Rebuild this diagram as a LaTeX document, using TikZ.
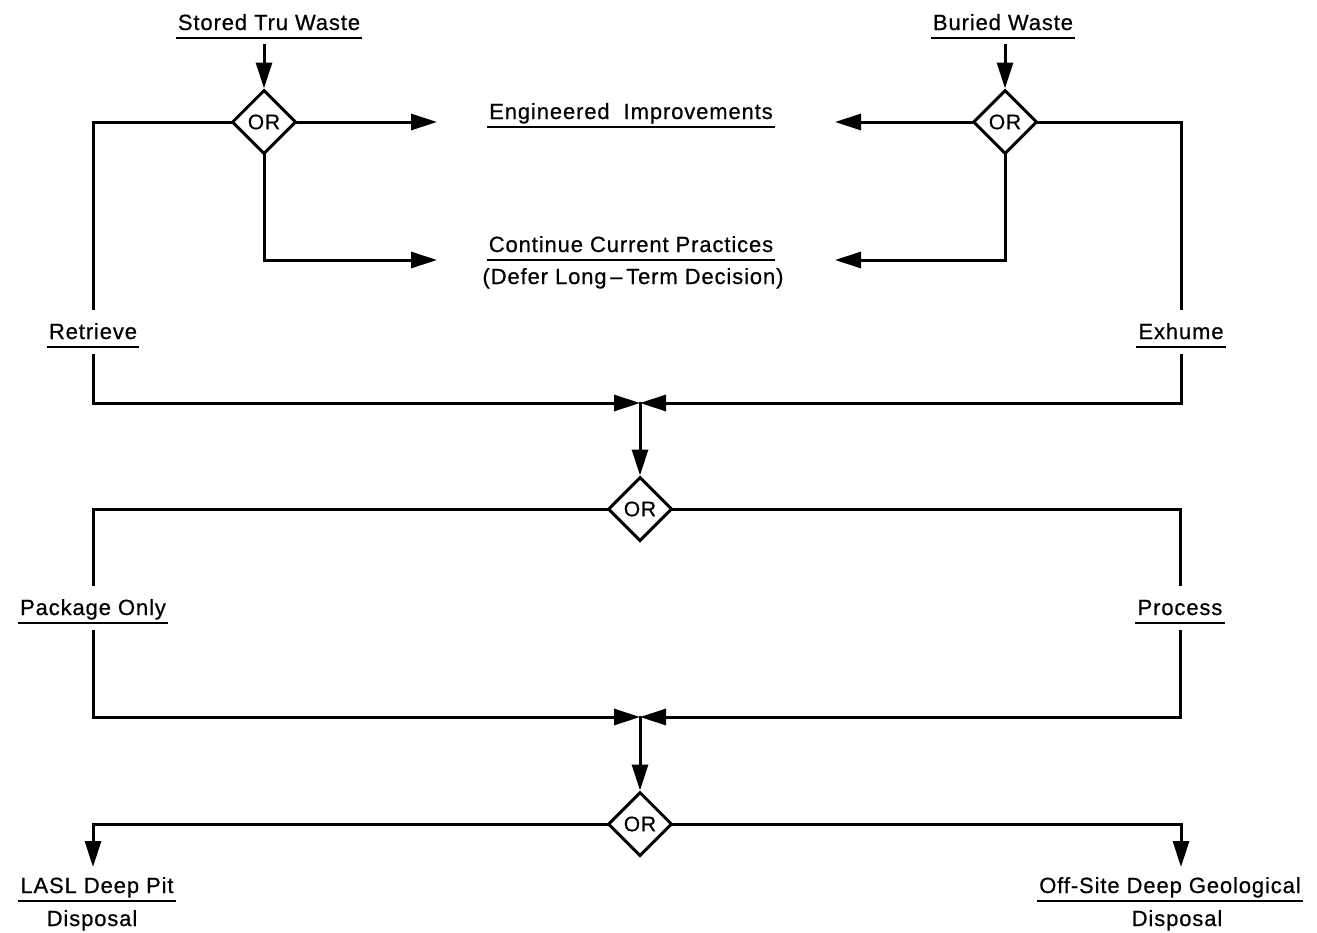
\documentclass[tikz,border=0pt]{standalone}
\usepackage{fontspec}
\setmainfont{Liberation Sans}[LetterSpace=4, FakeBold=0.6]
\usetikzlibrary{arrows.meta,shapes.geometric}

\tikzset{
  wire/.style={line width=3pt, line cap=rect, line join=miter},
  arr/.style={wire, -{Triangle[length=26pt,width=16pt]}},
  gate/.style={diamond, draw, line width=3pt, minimum size=64pt, inner sep=0pt,
               font=\fontsize{21}{24}\selectfont},
  tag/.style={anchor=base, font=\fontsize{22}{26}\selectfont, text height=16pt,
              text depth=4pt, inner ysep=4pt, inner xsep=2pt},
  uline/.style={line width=2.2pt},
}

\begin{document}
\begin{tikzpicture}[x=1pt,y=-1pt]
\useasboundingbox (0,0) rectangle (1317,932);

% decision gates
\node[gate] (d1) at (264,122) {OR};
\node[gate] (d2) at (1005,122) {OR};
\node[gate] (d3) at (640,509) {OR};
\node[gate] (d4) at (640,824) {OR};

% junction points and free arrow ends
\coordinate (j1) at (640,403);
\coordinate (j2) at (640,717);
\coordinate (e1) at (437,122);
\coordinate (e2) at (835,122);
\coordinate (c1) at (437,260);
\coordinate (c2) at (835,260);
\coordinate (t1) at (93,867);
\coordinate (t2) at (1181,867);

% labels
\node[tag] (stw) at (269,30) {Stored Tru Waste};
\node[tag] (bw)  at (1003,30) {Buried Waste};
\node[tag] (ei)  at (631,119) {Engineered\hspace{14pt}Improvements};
\node[tag] (ccp) at (631,252) {Continue Current Practices};
\node[tag, inner ysep=0pt] (dld) at (633,284) {(Defer Long\,--\,Term Decision)};
\node[tag] (ret) at (93,339) {Retrieve};
\node[tag] (exh) at (1181,339) {Exhume};
\node[tag] (pko) at (93,615) {Package Only};
\node[tag] (pro) at (1180,615) {Process};
\node[tag] (lasl) at (97,893) {LASL Deep Pit};
\node[tag, inner ysep=0pt] (dsp1) at (92,926) {Disposal};
\node[tag] (osd) at (1170,893) {Off-Site Deep Geological};
\node[tag, inner ysep=0pt] (dsp2) at (1177,926) {Disposal};

% underlines
\foreach \n in {stw,bw,ei,ccp,ret,exh,pko,pro,lasl,osd}
  \draw[uline] (\n.south west) -- (\n.south east);

% top gates
\draw[arr, shorten <=7pt] (d1.north |- stw.south) -- (d1.north);
\draw[arr, shorten <=7pt] (d2.north |- bw.south) -- (d2.north);
\draw[arr] (d1.east) -- (e1);
\draw[arr] (d1.south) |- (c1);
\draw[arr] (d2.west) -- (e2);
\draw[arr] (d2.south) |- (c2);

% retrieve / exhume branches
\draw[wire, shorten >=10pt] (d1.west) -| (ret.north);
\draw[arr, shorten <=8pt] (ret.south) |- (j1);
\draw[wire, shorten >=10pt] (d2.east) -| (exh.north);
\draw[arr, shorten <=8pt] (exh.south) |- (j1);
\draw[arr] (j1) -- (d3.north);

% package / process branches
\draw[wire, shorten >=10pt] (d3.west) -| (pko.north);
\draw[arr, shorten <=8pt] (pko.south) |- (j2);
\draw[wire, shorten >=10pt] (d3.east) -| (pro.north);
\draw[arr, shorten <=8pt] (pro.south) |- (j2);
\draw[arr] (j2) -- (d4.north);

% disposal branches
\draw[arr] (d4.west) -| (t1);
\draw[arr] (d4.east) -| (t2);
\end{tikzpicture}
\end{document}
